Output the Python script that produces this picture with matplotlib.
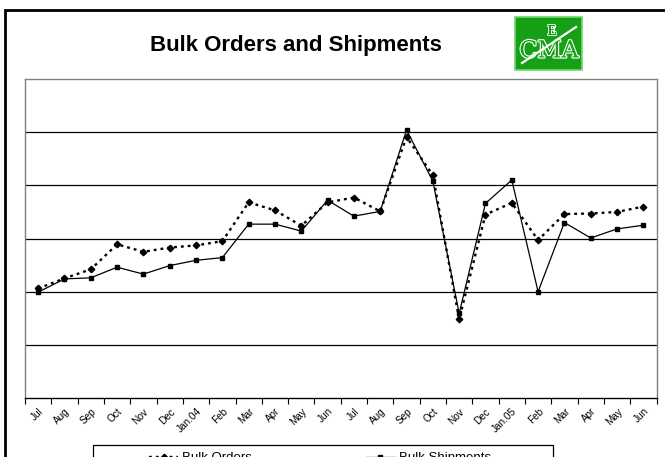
import matplotlib
matplotlib.use("Agg")
import matplotlib.pyplot as plt
from matplotlib.patches import Rectangle
import matplotlib.patheffects as pe

plt.rcParams['font.family'] = ['Liberation Sans', 'DejaVu Sans']

months = ["Jul", "Aug", "Sep", "Oct", "Nov", "Dec", "Jan.04", "Feb", "Mar", "Apr", "May", "Jun",
          "Jul", "Aug", "Sep", "Oct", "Nov", "Dec", "Jan.05", "Feb", "Mar", "Apr", "May", "Jun"]
bulk_orders = [2.06, 2.25, 2.42, 2.89, 2.75, 2.83, 2.87, 2.95, 3.68, 3.53, 3.24, 3.68,
               3.77, 3.51, 4.91, 4.19, 1.48, 3.45, 3.67, 2.97, 3.46, 3.47, 3.50, 3.60]
bulk_shipments = [1.99, 2.24, 2.26, 2.46, 2.33, 2.49, 2.59, 2.64, 3.27, 3.27, 3.14, 3.72,
                  3.42, 3.51, 5.04, 4.08, 1.59, 3.66, 4.10, 2.00, 3.30, 3.01, 3.18, 3.25]
y_grid = [1, 2, 3, 4, 5]

W, H = 665, 457
fig = plt.figure(figsize=(W / 100, H / 100), dpi=100)

def fx(px):
    return px / W

def fy(py):
    return 1 - py / H

# outer chart border
fig.patches.append(Rectangle((fx(5), fy(470)), fx(680) - fx(5), fy(10) - fy(470),
                             transform=fig.transFigure, fill=False, edgecolor='black',
                             linewidth=2.0, zorder=0))

ax = fig.add_axes([fx(25), fy(398), fx(656.5) - fx(25), fy(79) - fy(398)])
x = list(range(len(months)))
ax.plot(x, bulk_orders, color='black', linewidth=1.7, linestyle=(0, (1.2, 1.7)),
        marker='D', markersize=3.3, label='Bulk Orders', zorder=3)
ax.plot(x, bulk_shipments, color='black', linewidth=0.9, linestyle='-',
        marker='s', markersize=3.5, label='Bulk Shipments', zorder=3)

ax.set_xlim(-0.5, len(months) - 0.5)
ax.set_ylim(0, 6)
for g in y_grid:
    ax.axhline(g, color='black', linewidth=0.9, zorder=1)

ax.set_yticks([])
ax.set_xticks([i - 0.5 for i in range(len(months) + 1)], minor=False)
ax.set_xticklabels([])
ax.set_xticks(x, minor=True)
ax.set_xticklabels(months, minor=True, rotation=45, ha='right', va='top',
                   rotation_mode='anchor', fontsize=7.2)
ax.tick_params(axis='x', which='major', direction='out', length=4, width=0.8, color='black')
ax.tick_params(axis='x', which='minor', length=0, pad=6)
for side in ['top', 'left', 'right']:
    ax.spines[side].set_color('#808080')
    ax.spines[side].set_linewidth(1.0)
ax.spines['bottom'].set_color('black')
ax.spines['bottom'].set_linewidth(1.0)

# title
fig.text(fx(296), fy(45), 'Bulk Orders and Shipments', ha='center', va='center',
         fontsize=16, fontweight='bold')

# logo
fig.patches.append(Rectangle((fx(515), fy(70)), fx(582) - fx(515), fy(17) - fy(70),
                             transform=fig.transFigure, facecolor='#16a016',
                             edgecolor='#6fd86f', linewidth=1.2, zorder=2))
fig.text(fx(549), fy(51), 'CMA', ha='center', va='center', fontsize=17,
         family='DejaVu Serif', color='#16a016', zorder=3,
         path_effects=[pe.withStroke(linewidth=1.6, foreground='white')])
fig.text(fx(552), fy(31), 'E', ha='center', va='center', fontsize=9,
         family='DejaVu Serif', color='#16a016', zorder=3,
         path_effects=[pe.withStroke(linewidth=1.2, foreground='white')])
fig.lines.append(plt.Line2D([fx(522), fx(576)], [fy(63), fy(27)], transform=fig.transFigure,
                            color='white', linewidth=1.6, zorder=4))

# legend box (extends past the bottom edge as in the reference)
fig.patches.append(Rectangle((fx(93), fy(470)), fx(553) - fx(93), fy(445) - fy(470),
                             transform=fig.transFigure, facecolor='white',
                             edgecolor='black', linewidth=0.9, zorder=1))
leg = fig.legend(loc='upper left', bbox_to_anchor=(fx(140), fy(443)), ncol=2,
                 frameon=False, fontsize=9.5, handlelength=2.2, columnspacing=8.6,
                 borderpad=0.2, handletextpad=0.3)

fig.savefig('out.png', dpi=100)
